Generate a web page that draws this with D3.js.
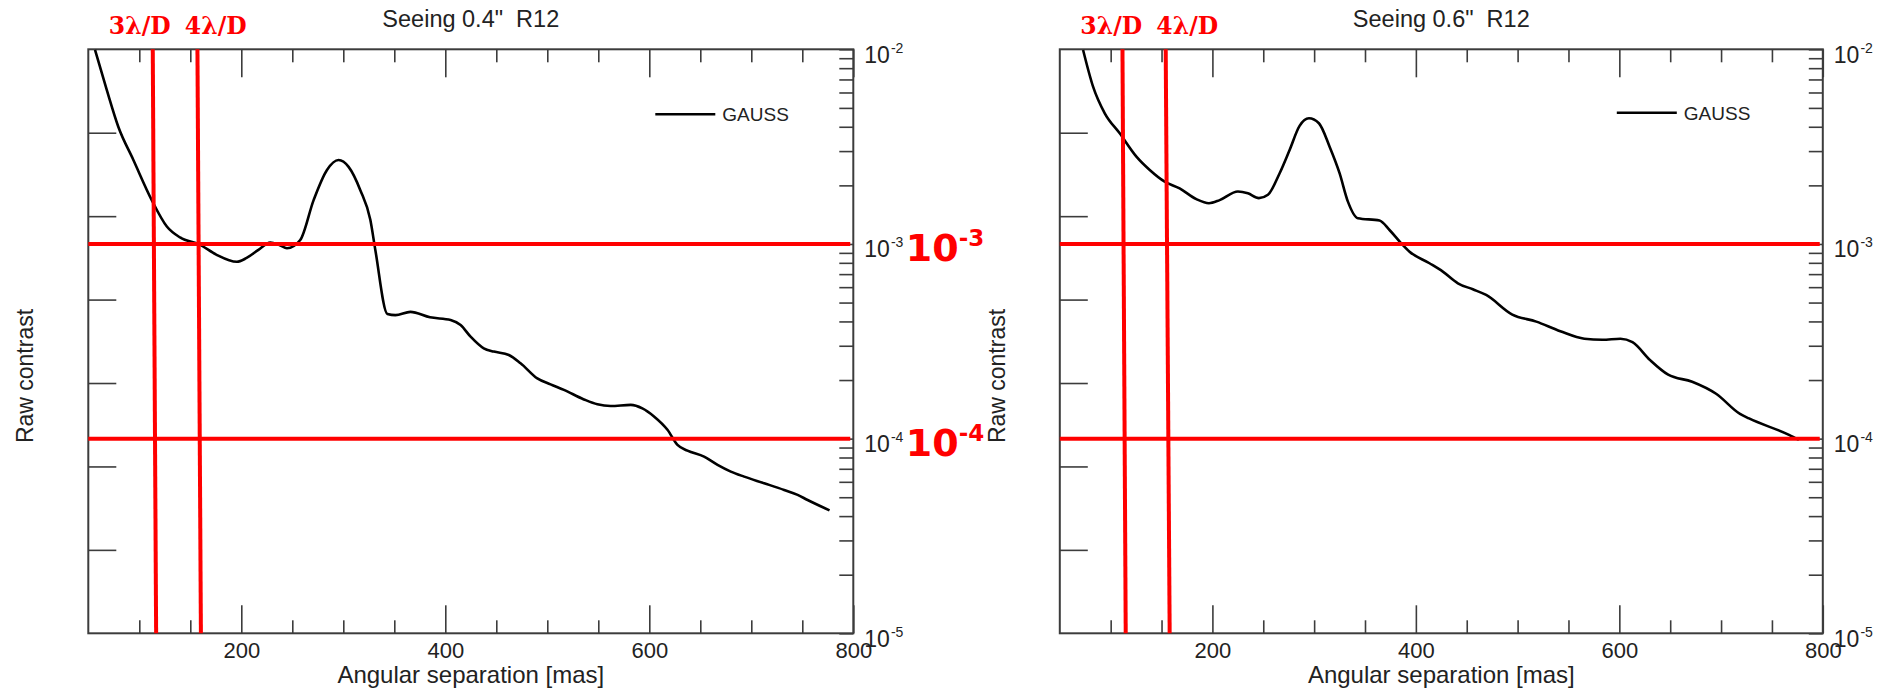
<!DOCTYPE html>
<html>
<head>
<meta charset="utf-8">
<script src="https://cdn.jsdelivr.net/npm/d3@7"></script>
<style>
  html, body { margin: 0; padding: 0; background: #fff; }
  svg { display: block; }
</style>
</head>
<body>
<svg id="fig" width="1883" height="690"></svg>
<script>
// Raw contrast versus angular separation (mas), GAUSS apodizer, R12
const sepSeeing04 = [56.6, 68.1, 79.4, 94.2, 112.2, 127.0, 140.0, 159.7, 175.4, 195.6, 204.8, 216.8, 228.4, 237.2, 244.8, 257.8,
  270.9, 284.0, 295.4, 305.2, 316.7, 326.5, 331.4, 343.2, 351.1, 365.8, 385.0, 405.2, 415.0, 424.8, 437.7, 447.6, 462.3,
  473.8, 490.2, 503.2, 516.3, 535.9, 549.1, 562.1, 581.8, 593.2, 604.6, 617.8, 627.6, 637.4, 653.7, 666.9, 679.9, 693.0,
  712.6, 732.2, 745.4, 755.2, 776.7];
const contrastSeeing04 = [9.92e-3, 6.18e-3, 4.00e-3, 2.70e-3, 1.68e-3, 1.23e-3, 1.08e-3, 9.89e-4, 8.82e-4, 8.10e-4, 8.45e-4,
  9.33e-4, 1.016e-3, 9.88e-4, 9.51e-4, 1.048e-3, 1.68e-3, 2.40e-3, 2.70e-3, 2.49e-3, 1.89e-3, 1.33e-3, 9.32e-4, 4.37e-4,
  4.31e-4, 4.48e-4, 4.20e-4, 4.07e-4, 3.83e-4, 3.34e-4, 2.91e-4, 2.80e-4, 2.69e-4, 2.44e-4, 2.04e-4, 1.90e-4, 1.78e-4,
  1.59e-4, 1.50e-4, 1.47e-4, 1.49e-4, 1.43e-4, 1.30e-4, 1.11e-4, 9.28e-5, 8.68e-5, 8.08e-5, 7.33e-5, 6.77e-5, 6.38e-5,
  5.90e-5, 5.45e-5, 5.14e-5, 4.84e-5, 4.28e-5];

const sepSeeing06 = [72.9, 82.7, 94.2, 108.9, 125.3, 138.4, 153.1, 167.8, 184.2, 196.6, 207.1, 225.1, 234.9, 245.7, 254.6,
  266.1, 275.9, 285.7, 294.9, 304.7, 315.2, 325.0, 333.2, 343.0, 364.3, 374.1, 385.6, 393.8, 413.4, 426.5, 441.3, 456.0,
  469.1, 494.8, 518.4, 542.0, 565.6, 583.3, 601.1, 612.9, 630.3, 648.0, 671.6, 695.1, 718.6, 727.5, 766.8, 776.5];
const contrastSeeing06 = [9.92e-3, 6.43e-3, 4.69e-3, 3.70e-3, 2.81e-3, 2.40e-3, 2.09e-3, 1.93e-3, 1.70e-3, 1.62e-3, 1.68e-3,
  1.86e-3, 1.82e-3, 1.72e-3, 1.79e-3, 2.31e-3, 3.04e-3, 4.04e-3, 4.42e-3, 4.17e-3, 3.16e-3, 2.31e-3, 1.65e-3, 1.355e-3,
  1.32e-3, 1.18e-3, 1.008e-3, 9.13e-4, 7.96e-4, 7.21e-4, 6.28e-4, 5.85e-4, 5.47e-4, 4.34e-4, 3.99e-4, 3.56e-4, 3.26e-4,
  3.22e-4, 3.26e-4, 3.13e-4, 2.53e-4, 2.13e-4, 1.96e-4, 1.70e-4, 1.34e-4, 1.27e-4, 1.045e-4, 9.85e-5];

const panelTitles = ['Seeing 0.4"  R12', 'Seeing 0.6"  R12'];
const seriesName = "GAUSS";
const xDomain = [50, 800];
const yDomain = [1e-5, 1e-2];
const xMajorTicks = [200, 400, 600, 800];
const xMinorTicks = [100, 150, 250, 300, 350, 450, 500, 550, 650, 700, 750];
const yDecades = [1e-2, 1e-3, 1e-4, 1e-5];
const yDecadeExponents = ["-2", "-3", "-4", "-5"];
const leftAxisTicks = [1, 2, 3, 4, 5, 6];

// contrast reference levels and their labels
const contrastLevels = [1e-3, 1e-4];
const contrastLevelExponents = ["-3", "-4"];

// 3 and 4 lambda/D separations (mas) where the marker lines meet the top and bottom axes
const lambdaNames = ["3λ/D", "4λ/D"];
const lambdaTop04 = [113.2, 157.0];
const lambdaBottom04 = [116.5, 160.4];
const lambdaTop06 = [111.6, 154.1];
const lambdaBottom06 = [114.8, 158.0];

const FONT = "'Liberation Sans', Arial, Helvetica, sans-serif";
const RED = "#ff0000";
const AXIS = "#3c3c3c";
const plotTop = 49.3, plotBottom = 633.3;

const panels = [
  { x0: 88.3, x1: 853.3, title: panelTitles[0], sep: sepSeeing04, contrast: contrastSeeing04,
    lamTop: lambdaTop04, lamBottom: lambdaBottom04, legendDx: 198, legendY: 114.3, levelLabels: true, id: "p04" },
  { x0: 1059.8, x1: 1822.8, title: panelTitles[1], sep: sepSeeing06, contrast: contrastSeeing06,
    lamTop: lambdaTop06, lamBottom: lambdaBottom06, legendDx: 206, legendY: 112.7, levelLabels: false, id: "p06" }
];

const svg = d3.select("#fig");
svg.append("rect").attr("width", 1883).attr("height", 690).attr("fill", "#fff");

panels.forEach(p => {
  const x = d3.scaleLinear().domain(xDomain).range([p.x0, p.x1]);
  const y = d3.scaleLog().domain(yDomain).range([plotBottom, plotTop]);
  const yLin = d3.scaleLinear().domain([0, 7]).range([plotBottom, plotTop]);
  const g = svg.append("g");

  g.append("clipPath").attr("id", "clip-" + p.id)
    .append("rect").attr("x", p.x0).attr("y", plotTop)
    .attr("width", p.x1 - p.x0).attr("height", plotBottom - plotTop);

  // frame
  g.append("rect").attr("x", p.x0).attr("y", plotTop)
    .attr("width", p.x1 - p.x0).attr("height", plotBottom - plotTop)
    .attr("fill", "none").attr("stroke", AXIS).attr("stroke-width", 2);

  const styleAxis = sel => {
    sel.select(".domain").remove();
    sel.selectAll(".tick line").attr("stroke", AXIS).attr("stroke-width", 1.6);
    sel.selectAll("text").attr("font-family", FONT).attr("font-size", 22).attr("fill", "#222");
  };

  // bottom axis: major ticks with labels, minor ticks
  g.append("g").attr("transform", `translate(0,${plotBottom})`)
    .call(d3.axisBottom(x).tickValues(xMajorTicks).tickSize(-28).tickPadding(9.5).tickFormat(d3.format("d")))
    .call(styleAxis);
  g.append("g").attr("transform", `translate(0,${plotBottom})`)
    .call(d3.axisBottom(x).tickValues(xMinorTicks).tickSize(-13).tickFormat(""))
    .call(styleAxis);
  // top axis
  g.append("g").attr("transform", `translate(0,${plotTop})`)
    .call(d3.axisTop(x).tickValues(xMajorTicks).tickSize(-28).tickFormat(""))
    .call(styleAxis);
  g.append("g").attr("transform", `translate(0,${plotTop})`)
    .call(d3.axisTop(x).tickValues(xMinorTicks).tickSize(-13).tickFormat(""))
    .call(styleAxis);
  // left axis (unlabelled)
  g.append("g").attr("transform", `translate(${p.x0},0)`)
    .call(d3.axisLeft(yLin).tickValues(leftAxisTicks).tickSize(-28).tickFormat(""))
    .call(styleAxis);
  // right logarithmic axis
  g.append("g").attr("transform", `translate(${p.x1},0)`)
    .call(d3.axisRight(y).tickValues(y.ticks()).tickSize(-14).tickFormat(""))
    .call(styleAxis);

  // decade labels 10^n
  yDecades.forEach((v, i) => {
    const t = g.append("text").attr("x", p.x1 + 11).attr("y", y(v) + 13.4)
      .attr("font-family", FONT).attr("font-size", 23).attr("fill", "#222");
    t.append("tspan").text("10");
    t.append("tspan").attr("dy", -10).attr("dx", 1).attr("font-size", 14).text(yDecadeExponents[i]);
  });

  // axis titles
  g.append("text").attr("x", (p.x0 + p.x1) / 2).attr("y", 683)
    .attr("text-anchor", "middle").attr("font-family", FONT).attr("font-size", 24).attr("fill", "#222")
    .text("Angular separation [mas]");
  g.append("text").attr("transform", `translate(${p.x0 - 55},376) rotate(-90)`)
    .attr("text-anchor", "middle").attr("font-family", FONT).attr("font-size", 23).attr("fill", "#222")
    .text("Raw contrast");
  g.append("text").attr("x", (p.x0 + p.x1) / 2).attr("y", 27)
    .attr("text-anchor", "middle").attr("font-family", FONT).attr("font-size", 23.5).attr("fill", "#222")
    .style("white-space", "pre").attr("xml:space", "preserve")
    .text(p.title);

  // contrast curve
  const line = d3.line().x(d => x(d[0])).y(d => y(d[1])).curve(d3.curveMonotoneX);
  g.append("path").datum(d3.zip(p.sep, p.contrast))
    .attr("clip-path", `url(#clip-${p.id})`)
    .attr("d", line).attr("fill", "none").attr("stroke", "#000")
    .attr("stroke-width", 2.6).attr("stroke-linejoin", "round");

  // legend
  g.append("line").attr("x1", p.x1 - p.legendDx).attr("x2", p.x1 - p.legendDx + 60)
    .attr("y1", p.legendY).attr("y2", p.legendY).attr("stroke", "#000").attr("stroke-width", 2.6);
  g.append("text").attr("x", p.x1 - p.legendDx + 67).attr("y", p.legendY + 7)
    .attr("font-family", FONT).attr("font-size", 19).attr("fill", "#222").text(seriesName);

  // red marker lines: lambda/D separations
  p.lamTop.forEach((v, i) => {
    g.append("line").attr("x1", x(v)).attr("y1", y(yDomain[1]))
      .attr("x2", x(p.lamBottom[i])).attr("y2", y(yDomain[0]))
      .attr("stroke", RED).attr("stroke-width", 4);
    g.append("text").attr("x", p.x0 + 20.5 + i * 76).attr("y", 34)
      .attr("font-family", "'DejaVu Serif', serif").attr("font-weight", "bold")
      .attr("font-size", 23.5).attr("fill", RED).text(lambdaNames[i]);
  });
  // red marker lines: contrast levels
  contrastLevels.forEach((c, i) => {
    g.append("line").attr("x1", x(xDomain[0])).attr("x2", x(797))
      .attr("y1", y(c)).attr("y2", y(c))
      .attr("stroke", RED).attr("stroke-width", 4);
    if (p.levelLabels) {
      const t = g.append("text").attr("x", p.x1 + 52.5).attr("y", y(c) + 17)
        .attr("font-family", "'DejaVu Sans', sans-serif").attr("font-weight", "bold")
        .attr("fill", RED).attr("font-size", 38);
      t.append("tspan").text("10");
      t.append("tspan").attr("dy", -14.5).attr("font-size", 23).text(contrastLevelExponents[i]);
    }
  });
});
</script>
</body>
</html>
